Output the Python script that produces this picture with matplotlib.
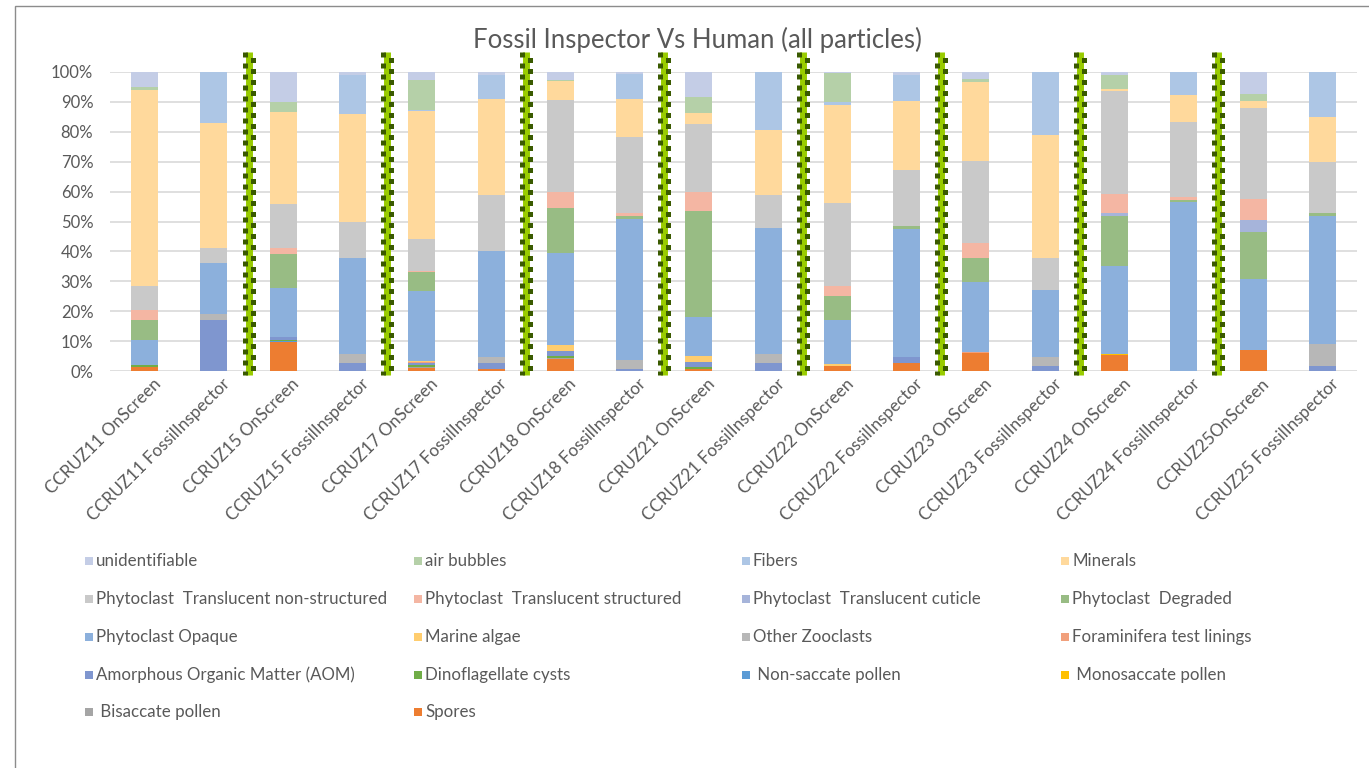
import matplotlib
matplotlib.use("Agg")
import matplotlib.pyplot as plt
import matplotlib.transforms as mtransforms
from matplotlib.patches import Rectangle
from matplotlib.ticker import PercentFormatter
import numpy as np

plt.rcParams['font.family'] = ['Lato', 'DejaVu Sans']

samples = ["CCRUZ11 OnScreen", "CCRUZ11 FossilInspector",
           "CCRUZ15 OnScreen", "CCRUZ15 FossilInspector",
           "CCRUZ17 OnScreen", "CCRUZ17 FossilInspector",
           "CCRUZ18 OnScreen", "CCRUZ18 FossilInspector",
           "CCRUZ21 OnScreen", "CCRUZ21 FossilInspector",
           "CCRUZ22 OnScreen", "CCRUZ22 FossilInspector",
           "CCRUZ23 OnScreen", "CCRUZ23 FossilInspector",
           "CCRUZ24 OnScreen", "CCRUZ24 FossilInspector",
           "CCRUZ25OnScreen", "CCRUZ25 FossilInspector"]

# particle counts (% of each sample), bottom of stack first
spores        = [1.5, 0, 9.7, 0, 1.1, 0.8, 3.9, 0, 0.8, 0, 1.7, 2.8, 6.0, 0, 5.4, 0, 7.0, 0]
bisaccate     = [0, 0, 0, 0, 0.3, 0, 0.4, 0, 0, 0, 0, 0, 0, 0, 0, 0, 0, 0]
monosaccate   = [0, 0, 0, 0, 0, 0, 0, 0, 0, 0, 0, 0, 0, 0, 0.4, 0, 0, 0]
nonsaccate    = [0, 0, 0.3, 0, 0, 0, 0, 0, 0, 0, 0, 0, 0, 0, 0, 0, 0, 0]
dinocysts     = [0.4, 0, 0.3, 0, 0.6, 0, 0.6, 0, 0.6, 0, 0, 0, 0, 0, 0, 0, 0, 0]
aom           = [0, 17.0, 1.0, 2.7, 0.6, 1.9, 1.8, 0.8, 1.5, 2.7, 0, 1.9, 0, 1.8, 0, 0, 0, 1.8]
foraminifera  = [0, 0, 0.2, 0, 0.3, 0, 0, 0, 0, 0, 0, 0, 0.4, 0, 0, 0, 0, 0]
zooclasts     = [0, 2.0, 0, 3.1, 0, 2.0, 0, 3.0, 0, 3.1, 0, 0, 0, 2.9, 0, 0, 0, 7.1]
marine_algae  = [0, 0, 0, 0, 0.3, 0, 1.9, 0, 2.1, 0, 0.5, 0, 0, 0, 0, 0, 0, 0]
opaque        = [8.4, 17.1, 16.4, 32.0, 23.6, 35.3, 30.7, 47.0, 12.9, 42.1, 15.0, 42.8, 23.5, 22.3, 29.4, 56.4, 23.9, 42.9]
degraded      = [6.7, 0, 11.1, 0, 6.3, 0, 15.2, 1.0, 35.6, 0, 7.8, 1.0, 7.9, 0, 16.6, 0.9, 15.7, 1.0]
cuticle       = [0, 0, 0, 0, 0, 0, 0, 0, 0, 0, 0, 0, 0, 0, 0.9, 0, 3.9, 0]
structured    = [3.4, 0, 2.0, 0, 0.4, 0, 5.2, 0.9, 6.2, 0, 3.5, 0, 4.9, 0, 6.4, 1.0, 6.9, 0]
nonstructured = [8.1, 5.2, 14.8, 11.9, 10.5, 19.0, 31.0, 25.4, 23.0, 11.1, 27.6, 18.8, 27.5, 10.8, 34.6, 25.1, 30.4, 17.1]
minerals      = [65.6, 41.6, 30.7, 36.2, 42.8, 31.9, 6.4, 13.0, 3.6, 21.7, 32.7, 22.9, 26.6, 41.2, 0.7, 8.8, 2.6, 15.0]
fibers        = [0, 17.1, 0, 13.2, 0.4, 8.1, 0, 8.1, 0, 19.3, 1.0, 8.9, 0, 21.0, 0, 7.8, 0, 15.1]
air_bubbles   = [0.9, 0, 3.4, 0, 10.1, 0, 0.3, 0, 5.2, 0, 9.9, 0, 1.0, 0, 4.7, 0, 2.1, 0]
unidentified  = [5.0, 0, 10.1, 0.9, 2.7, 1.0, 2.6, 0.8, 8.5, 0, 0.3, 0.9, 2.2, 0, 0.9, 0, 7.5, 0]

# stacking order (bottom -> top): name, values, colour
stack = [
    ("Spores", spores, "#ED7D31"),
    (" Bisaccate pollen", bisaccate, "#A5A5A5"),
    (" Monosaccate pollen", monosaccate, "#FFC000"),
    (" Non-saccate pollen", nonsaccate, "#5B9BD5"),
    ("Dinoflagellate cysts", dinocysts, "#70AD47"),
    ("Amorphous Organic Matter (AOM)", aom, "#7F96CF"),
    ("Foraminifera test linings", foraminifera, "#F1A07C"),
    ("Other Zooclasts", zooclasts, "#B7B7B7"),
    ("Marine algae", marine_algae, "#FFCD6E"),
    ("Phytoclast Opaque", opaque, "#8CB0DC"),
    ("Phytoclast  Degraded", degraded, "#98BC84"),
    ("Phytoclast  Translucent cuticle", cuticle, "#A6B4DA"),
    ("Phytoclast  Translucent structured", structured, "#F4B6A3"),
    ("Phytoclast  Translucent non-structured", nonstructured, "#C9C9C9"),
    ("Minerals", minerals, "#FFD99C"),
    ("Fibers", fibers, "#ADC6E5"),
    ("air bubbles", air_bubbles, "#B5D0A8"),
    ("unidentifiable", unidentified, "#C4CDE6"),
]

W, H, DPI = 1369, 768, 100
TXT = "#595959"
fig = plt.figure(figsize=(W / DPI, H / DPI), dpi=DPI)
fig.patch.set_facecolor("white")

# chart-area frame
fig.patches.append(Rectangle((14.5 / W, -0.1), 1.2, 1 - 5.5 / H + 0.1,
                             transform=fig.transFigure, fill=False,
                             edgecolor="#8C8C8C", linewidth=1.0))

ax = fig.add_axes([110 / W, 1 - 371 / H, 1247 / W, 299 / H])

x = np.arange(len(samples))
totals = np.sum([np.array(v, float) for _, v, _ in stack], axis=0)
bottom = np.zeros(len(samples))
for name, vals, col in stack:
    share = np.array(vals, float) / totals
    ax.bar(x, share, 0.39, bottom=bottom, color=col, linewidth=0, zorder=2)
    bottom += share

ax.set_xlim(-0.5, len(samples) - 0.5)
ax.set_ylim(0, 1)
ax.yaxis.set_major_locator(plt.MultipleLocator(0.1))
ax.yaxis.set_major_formatter(PercentFormatter(1.0, decimals=0))
ax.grid(axis="y", color="#D9D9D9", linewidth=1.2, zorder=0)
ax.set_axisbelow(True)
for s in ax.spines.values():
    s.set_visible(False)
ax.tick_params(axis="both", length=0, colors=TXT, labelsize=12)
ax.tick_params(axis="y", pad=12)
ax.set_xticks(x)
ax.set_xticklabels(samples, rotation=45, ha="right", rotation_mode="anchor",
                   color=TXT, fontsize=12.3)
shift = mtransforms.ScaledTranslation(8 / DPI, 0, fig.dpi_scale_trans)
for lbl in ax.get_xticklabels():
    lbl.set_transform(lbl.get_transform() + shift)

fig.text(697 / W, 1 - 40 / H, "Fossil Inspector Vs Human (all particles)",
         color=TXT, fontsize=18.5, ha="center", va="center")

# dotted green separators between sample pairs
blend = mtransforms.blended_transform_factory(ax.transData, ax.transAxes)
for xs in np.arange(1.5, len(samples) - 1, 2):
    ax.plot([xs, xs], [-0.013, 1.067], color="#99CC00", linewidth=5.0,
            solid_capstyle="butt", transform=blend, clip_on=False, zorder=5)
    for dx, off in ((-4, 0.0), (4, 1.1)):
        tr = blend + mtransforms.ScaledTranslation(dx / DPI, 0, fig.dpi_scale_trans)
        ax.plot([xs, xs], [1.067, -0.013], color="#3A5A00", linewidth=3.6,
                linestyle=(off, (1, 1.2)), dash_capstyle="butt",
                transform=tr, clip_on=False, zorder=6)

# legend laid out in four evenly spaced columns
legend_order = list(reversed(stack))
col_x = [89, 418, 746, 1065]
row_y = [561, 599, 637, 675, 712]
for i, (name, vals, col) in enumerate(legend_order):
    r, c = divmod(i, 4)
    cx, cy = col_x[c], row_y[r]
    fig.patches.append(Rectangle(((cx - 4) / W, 1 - (cy + 4) / H), 8 / W, 8 / H,
                                 transform=fig.transFigure, facecolor=col,
                                 edgecolor="none"))
    fig.text((cx + 7) / W, 1 - cy / H, name, color=TXT, fontsize=12.2,
             ha="left", va="center")

fig.savefig("out.png", dpi=DPI, facecolor="white")
